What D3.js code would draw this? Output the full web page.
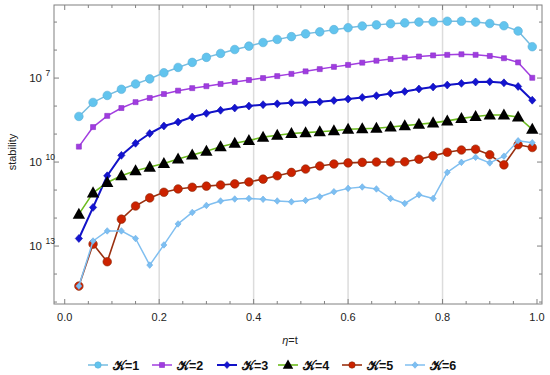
<!DOCTYPE html>
<html>
<head>
<meta charset="utf-8">
<script src="https://cdn.jsdelivr.net/npm/d3@7/dist/d3.min.js"></script>
<style>
  html, body { margin: 0; padding: 0; background: #fff; }
  svg { display: block; }
  text { font-family: "Liberation Sans", Arial, sans-serif; }
</style>
</head>
<body>
<svg id="chart" width="550" height="375"></svg>
<script>
// x positions (eta = t)
const eta = [0.03,0.06,0.09,0.12,0.15,0.18,0.21,0.24,0.27,0.30,0.33,0.36,0.39,0.42,0.45,0.48,
             0.51,0.54,0.57,0.60,0.63,0.66,0.69,0.72,0.75,0.78,0.81,0.84,0.87,0.90,0.93,0.96,0.99];

// log10(stability), one array per K
const logK1 = [-8.37,-7.87,-7.62,-7.40,-7.21,-7.03,-6.81,-6.62,-6.44,-6.26,-6.12,-5.98,-5.86,-5.73,-5.62,-5.52,
               -5.42,-5.35,-5.27,-5.20,-5.14,-5.10,-5.06,-5.03,-5.00,-4.99,-4.97,-4.97,-5.00,-5.05,-5.13,-5.32,-5.88];
const logK2 = [-9.45,-8.75,-8.35,-8.07,-7.86,-7.71,-7.57,-7.45,-7.36,-7.29,-7.21,-7.14,-7.07,-7.00,-6.93,-6.85,
               -6.76,-6.68,-6.60,-6.53,-6.45,-6.38,-6.32,-6.27,-6.23,-6.19,-6.17,-6.15,-6.17,-6.21,-6.29,-6.44,-6.99];
const logK3 = [-12.73,-11.62,-10.49,-9.76,-9.33,-8.98,-8.71,-8.57,-8.39,-8.26,-8.15,-8.07,-8.00,-7.95,-7.92,-7.88,
               -7.87,-7.85,-7.80,-7.75,-7.69,-7.63,-7.55,-7.48,-7.39,-7.32,-7.25,-7.19,-7.14,-7.13,-7.17,-7.30,-7.79];
const logK4 = [-11.86,-11.10,-10.73,-10.49,-10.31,-10.18,-10.05,-9.89,-9.75,-9.61,-9.45,-9.33,-9.23,-9.11,-9.04,-8.98,
               -8.95,-8.92,-8.88,-8.83,-8.81,-8.79,-8.75,-8.70,-8.65,-8.60,-8.53,-8.44,-8.37,-8.32,-8.32,-8.39,-8.83];
const logK5 = [-14.43,-12.93,-13.56,-12.04,-11.57,-11.28,-11.08,-10.96,-10.90,-10.86,-10.82,-10.78,-10.71,-10.61,-10.49,-10.37,
               -10.25,-10.14,-10.07,-10.03,-10.01,-10.00,-10.00,-9.99,-9.90,-9.78,-9.65,-9.57,-9.54,-9.74,-10.10,-9.38,-9.48];
const logK6 = [-14.43,-12.82,-12.46,-12.46,-12.73,-13.68,-12.96,-12.21,-11.80,-11.55,-11.39,-11.32,-11.30,-11.33,-11.39,-11.42,
               -11.37,-11.24,-11.06,-10.94,-10.89,-10.96,-11.30,-11.48,-11.17,-11.30,-10.37,-10.01,-9.83,-10.03,-9.79,-9.24,-9.31];

const seriesNames = ["𝒦=1","𝒦=2","𝒦=3","𝒦=4","𝒦=5","𝒦=6"];
const xTickLabels = ["0.0","0.2","0.4","0.6","0.8","1.0"];
const xTickValues = [0,0.2,0.4,0.6,0.8,1.0];
const yMajorExps = [-7,-10,-13];
const yTickLabels = ["7","10","13"];

const styles = [
  {line:"#76bce0", fill:"#62c4ee", stroke:"#5aaed8", shape:"circle", size:4.3, lw:1.5},
  {line:"#a23ee0", fill:"#a03ce0", stroke:"#8a30c8", shape:"square", size:2.5, lw:1.5},
  {line:"#1212c8", fill:"#1414d0", stroke:"#0c0cb0", shape:"diamond", size:3.6, lw:2.0},
  {line:"#6cbb1e", fill:"#000000", stroke:"#000000", shape:"triangle", size:6.5, lw:1.6},
  {line:"#9a3010", fill:"#cc2200", stroke:"#8a2a08", shape:"circle", size:4.3, lw:1.6},
  {line:"#80bff0", fill:"#7dbff2", stroke:"#6aaee6", shape:"diamond", size:3.0, lw:1.5}
];

const data = [logK1,logK2,logK3,logK4,logK5,logK6].map(arr => arr.map((v,i) => ({x: eta[i], y: Math.pow(10, v)})));

const svg = d3.select("#chart");
const L = 54, R = 542, T = 5, B = 304;
const x = d3.scaleLinear().domain([-0.0227, 1.0106]).range([L, R]);
const y = d3.scaleLog().domain([Math.pow(10,-15.07), Math.pow(10,-4.39)]).range([B, T]);

// grid
svg.append("g").selectAll("line").data([0.2,0.4,0.6,0.8]).join("line")
  .attr("x1", d => x(d)).attr("x2", d => x(d)).attr("y1", T).attr("y2", B)
  .attr("stroke", "#dcdcdc").attr("stroke-width", 1.5);

// frame
svg.append("rect").attr("x", L).attr("y", T).attr("width", R-L).attr("height", B-T)
  .attr("fill", "none").attr("stroke", "#808080").attr("stroke-width", 1);

// x ticks (inside, bottom and top)
const xMinor = d3.range(0, 1.0001, 0.05);
const gx = svg.append("g");
xMinor.forEach(v => {
  const major = Math.abs(v*5 - Math.round(v*5)) < 1e-6;
  const len = major ? 5 : 3;
  gx.append("line").attr("x1", x(v)).attr("x2", x(v)).attr("y1", B).attr("y2", B-len).attr("stroke", "#808080");
  gx.append("line").attr("x1", x(v)).attr("x2", x(v)).attr("y1", T).attr("y2", T+len).attr("stroke", "#808080");
});
gx.selectAll("text.xt").data(xTickValues).join("text").attr("class","xt")
  .attr("x", d => x(d)).attr("y", 321).attr("text-anchor", "middle")
  .attr("font-size", 11).attr("fill", "#222").text((d,i) => xTickLabels[i]);

// y ticks
const gy = svg.append("g");
d3.range(-15, -4).forEach(e => {
  const major = yMajorExps.includes(e);
  const len = major ? 5 : 3;
  const yy = y(Math.pow(10, e));
  gy.append("line").attr("x1", L).attr("x2", L+len).attr("y1", yy).attr("y2", yy).attr("stroke", "#808080");
  gy.append("line").attr("x1", R).attr("x2", R-len).attr("y1", yy).attr("y2", yy).attr("stroke", "#808080");
});
yMajorExps.forEach((e,i) => {
  const yy = y(Math.pow(10, e));
  gy.append("text").attr("x", 42).attr("y", yy+4).attr("text-anchor", "end")
    .attr("font-size", 11.5).attr("fill", "#222").text("10");
  gy.append("text").attr("x", 45.5).attr("y", yy-2).attr("font-size", 8.5).attr("fill", "#222").text(yTickLabels[i]);
});

// axis titles
svg.append("text").attr("transform", "translate(16,152) rotate(-90)").attr("text-anchor", "middle")
  .attr("font-size", 11).attr("fill", "#222").text("stability");
svg.append("text").attr("x", 290).attr("y", 344).attr("text-anchor", "middle")
  .attr("font-size", 11).attr("fill", "#222").html("<tspan font-style='italic'>η</tspan>=t");

// symbols
function symbolPath(shape, s) {
  if (shape === "circle") return d3.symbol(d3.symbolCircle, Math.PI*s*s)();
  if (shape === "square") return d3.symbol(d3.symbolSquare, (2*s)*(2*s))();
  if (shape === "diamond") return `M0,${-s*1.1}L${s},0L0,${s*1.1}L${-s},0Z`;
  if (shape === "triangle") return `M0,${-s}L${s*0.95},${s*0.7}L${-s*0.95},${s*0.7}Z`;
}

const line = d3.line().x(d => x(d.x)).y(d => y(d.y));
data.forEach((ser, k) => {
  const st = styles[k];
  const g = svg.append("g");
  g.append("path").datum(ser).attr("d", line).attr("fill", "none")
    .attr("stroke", st.line).attr("stroke-width", st.lw).attr("stroke-linejoin", "round");
  g.selectAll("path.m").data(ser).join("path").attr("class", "m")
    .attr("transform", d => `translate(${x(d.x)},${y(d.y)})`)
    .attr("d", symbolPath(st.shape, st.size))
    .attr("fill", st.fill).attr("stroke", st.stroke).attr("stroke-width", st.shape === "triangle" ? 0 : 0.6);
});

// legend
const legendX = [88, 152, 217, 278, 342, 405];
const lg = svg.append("g");
seriesNames.forEach((name, k) => {
  const st = styles[k];
  const lx = legendX[k], ly = 365;
  lg.append("line").attr("x1", lx).attr("x2", lx+20).attr("y1", ly).attr("y2", ly)
    .attr("stroke", st.line).attr("stroke-width", st.lw);
  lg.append("path").attr("transform", `translate(${lx+10},${ly})`)
    .attr("d", symbolPath(st.shape, st.shape === "triangle" ? 5.5 : Math.min(st.size, 3.2)))
    .attr("fill", st.fill).attr("stroke", st.stroke).attr("stroke-width", st.shape === "triangle" ? 0 : 0.6);
  lg.append("text").attr("x", lx+25).attr("y", ly+4.5).attr("font-size", 12.5).attr("font-weight", "bold")
    .attr("fill", "#111").text(name);
});
</script>
</body>
</html>
